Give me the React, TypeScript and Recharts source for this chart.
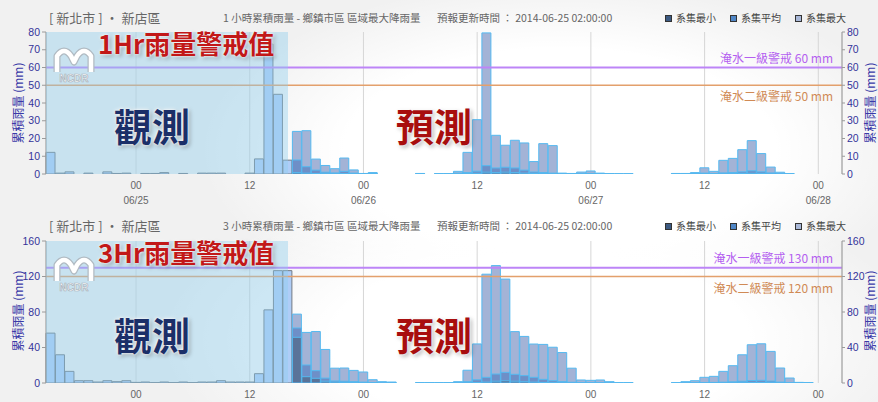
import React from 'react';
import { ComposedChart, Bar, XAxis, YAxis, CartesianGrid, ReferenceLine } from 'recharts';

// ---------- categories (hourly, 06/24 15:00 .. 06/28 02:00) ----------
const days = ['06/24', '06/25', '06/26', '06/27', '06/28'];
const categories: string[] = [];
days.forEach((d, di) => {
  for (let h = 0; h < 24; h++) {
    if (di === 0 && h < 15) continue;
    if (di === days.length - 1 && h > 2) continue;
    categories.push(`${d} ${String(h).padStart(2, '0')}`);
  }
});
const tickCategories = ['06/25 00', '06/25 12', '06/26 00', '06/26 12', '06/27 00', '06/27 12', '06/28 00'];

// ---------- 1 hr chart ----------
const obs1h = [12.2, 0.5, 1.2, 0, 0.5, 0, 1.2, 0.3, 0.5, 0, 0.3, 0.3, 0.8, 0, 0.3, 0, 0.5, 0.5, 0.5, 0, 0, 0.5, 8.5, 73.2, 44.9, 7.8];
const fc1hMax = [
  24, 24.4, 8.4, 4.8, 3, 9, 2.3, 0.3, 0.8, null,
  null, null, null, 0.3, null, 0.2, 0.2, 1.5, 12.2, 30.6,
  79.5, 21.8, 16.2, 19, 17.5, 7, 17.1, 16, 0.5, 0.3,
  1.1, 1.7, 0.5, 0.2, 0.1, 0.1, null, null, null, null,
  0.3, 0.3, 0.8, 3.5, 1.5, 7.7, 8.8, 13.7, 18.8, 11.5,
  3.9, 1, 0.2, null, null, null, null, null,
];
const fc1hMean = [
  7.9, 4.1, 2.2, 1, 0.6, 1.5, 0.5, 0.1, 0.3, null,
  null, null, null, 0.1, null, 0.1, 0.1, 0.5, 0.8, 1.6,
  4.7, 3.4, 3.8, 3.4, 2.2, 1.1, 0.8, 0.5, 0.1, 0.1,
  0.2, 0.3, 0.1, 0.1, 0.05, 0.05, null, null, null, null,
  0.1, 0.1, 0.2, 0.5, 0.3, 0.6, 0.8, 1.2, 1.8, 1.2,
  0.6, 0.2, 0.1, null, null, null, null, null,
];
const fc1hMin = [
  0.8, 0.5, 0.3, 0.1, 0.1, 0.2, 0.1, 0, 0, null,
  null, null, null, 0, null, 0, 0, 0.1, 0.2, 0.4,
  1, 0.8, 1, 0.8, 0.5, 0.2, 0.2, 0.1, 0, 0,
  0, 0.1, 0, 0, 0, 0, null, null, null, null,
  0, 0, 0, 0.1, 0, 0.1, 0.2, 0.3, 0.4, 0.3,
  0.1, 0, 0, null, null, null, null, null,
];
const yTicks1h = [0, 10, 20, 30, 40, 50, 60, 70, 80];

// ---------- 3 hr chart ----------
const obs3h = [56.2, 31.8, 13.1, 2.6, 2.6, 1.1, 2.6, 1.5, 2.6, 0.7, 1.1, 0.4, 1.1, 0.4, 1.1, 0.4, 1.1, 1.1, 2.6, 1.1, 1.1, 1.1, 10.5, 82.4, 126.6, 126.6];
const fc3hMax = [
  77.6, 57, 58, 37.8, 16.7, 16.9, 14.2, 12.4, 3.7, 1.5,
  1.1, null, null, 0.4, 0.4, 0.4, 0.4, 1.5, 14.4, 44,
  122.6, 132.3, 117.1, 57.9, 52.5, 43.9, 43.5, 40.3, 34.3, 16.7,
  3.4, 3, 3.4, 1.5, 0.4, 0.4, null, null, null, null,
  0.4, 1.5, 2.6, 6.4, 7.5, 13.1, 19.5, 31.8, 43.1, 44.2,
  35.6, 16.9, 5.6, 0.7, 0.4, null, null, null,
];
const fc3hMean = [
  62, 20.3, 13.9, 5.5, 2.3, 2, 1.5, 1, 0.4, 0.2,
  0.1, null, null, 0.1, 0.1, 0.1, 0.1, 0.3, 1.5, 3.6,
  6.4, 10.1, 12, 9.8, 8.3, 6.4, 4.1, 2.6, 1.5, 0.8,
  0.3, 0.3, 0.3, 0.1, 0.05, 0.05, null, null, null, null,
  0.05, 0.1, 0.2, 0.4, 0.6, 0.9, 1.3, 2, 2.8, 3,
  2.2, 1, 0.3, 0.1, 0.05, null, null, null,
];
const fc3hMin = [
  51.5, 7.1, 5.3, 2, 1, 0.7, 0.4, 0.2, 0.1, 0,
  0, null, null, 0, 0, 0, 0, 0, 0.2, 0.5,
  1, 2, 2.5, 2, 1.5, 1, 0.6, 0.3, 0.1, 0,
  0, 0, 0, 0, 0, 0, null, null, null, null,
  0, 0, 0, 0, 0.1, 0.1, 0.2, 0.3, 0.5, 0.5,
  0.3, 0.1, 0, 0, 0, null, null, null,
];
const yTicks3h = [0, 40, 80, 120, 160];

const FC_START = obs1h.length;

function buildData(obs: number[], mx: (number | null)[], mean: (number | null)[], mn: (number | null)[]) {
  return categories.map((cat, i) => ({
    cat,
    obs: i < obs.length ? obs[i] : null,
    max: i >= FC_START ? mx[i - FC_START] : null,
    mean: i >= FC_START ? mean[i - FC_START] : null,
    min: i >= FC_START ? mn[i - FC_START] : null,
  }));
}

const data1h = buildData(obs1h, fc1hMax, fc1hMean, fc1hMin);
const data3h = buildData(obs3h, fc3hMax, fc3hMean, fc3hMin);

const NUM_FONT = "'Liberation Sans', Arial, sans-serif";
const CJK_FONT = "'Noto Sans CJK TC', 'Noto Sans', sans-serif";

const XTick = (props: any) => {
  const { x, y, payload, showDates } = props;
  const [date, hour] = String(payload.value).split(' ');
  return (
    <g>
      <text x={x} y={y + 7} textAnchor="middle" fill="#666" fontSize={10} fontFamily={NUM_FONT}>{hour}</text>
      {showDates && hour === '00' && (
        <text x={x} y={y + 22} textAnchor="middle" fill="#666" fontSize={10} fontFamily={NUM_FONT}>{date}</text>
      )}
    </g>
  );
};

const LineLabel = (props: any) => {
  const { viewBox, text, color, above } = props;
  if (!viewBox) return null;
  const { x, y, width } = viewBox;
  return (
    <text x={x + width - 9} y={above ? y - 4.5 : y + 16} textAnchor="end" fill={color} fontSize={12} fontFamily={CJK_FONT}>
      {text}
    </text>
  );
};

function RainChart({ data, yMax, yTicks, lvl1, lvl2, showDates }: any) {
  const yTickStyle = { fill: '#33339a', fontSize: 10.5, fontFamily: NUM_FONT };
  return (
    <ComposedChart width={878} height={212} data={data} margin={{ top: 32, right: 0, bottom: 0, left: 0 }} barCategoryGap={0} barGap={0} style={{ overflow: 'visible' }}>
      <CartesianGrid xAxisId="main" yAxisId="left" horizontal={false} vertical stroke="#d6d6d6" />
      <XAxis xAxisId="main" dataKey="cat" ticks={tickCategories} interval={0} tick={<XTick showDates={showDates} />} tickLine={false} axisLine={false} height={38} tickSize={6} tickMargin={2} />
      <XAxis xAxisId="a1" dataKey="cat" hide height={0} />
      <XAxis xAxisId="a2" dataKey="cat" hide height={0} />
      <XAxis xAxisId="a3" dataKey="cat" hide height={0} />
      <YAxis yAxisId="left" domain={[0, yMax]} ticks={yTicks} width={46} tick={yTickStyle} tickSize={4} tickMargin={2} axisLine={{ stroke: '#9a9a9a' }} tickLine={{ stroke: '#9a9a9a' }} allowDataOverflow />
      <YAxis yAxisId="right" orientation="right" domain={[0, yMax]} ticks={yTicks} width={36} tick={yTickStyle} tickSize={3} tickMargin={2} axisLine={{ stroke: '#9a9a9a' }} tickLine={{ stroke: '#9a9a9a' }} allowDataOverflow />
      <ReferenceLine xAxisId="main" yAxisId="left" y={lvl1.value} stroke="#bd85f7" strokeWidth={2} label={<LineLabel text={lvl1.text} color="#b45ff0" above />} />
      <ReferenceLine xAxisId="main" yAxisId="left" y={lvl2.value} stroke="#e3a06c" strokeWidth={1.5} label={<LineLabel text={lvl2.text} color="#d08a55" />} />
      <Bar xAxisId="main" yAxisId="left" dataKey="obs" fill="#afcdf7" stroke="#737b84" strokeWidth={1} isAnimationActive={false} />
      <Bar xAxisId="a1" yAxisId="left" dataKey="max" fill="#a3b3d6" stroke="#55b9f0" strokeWidth={1} isAnimationActive={false} />
      <Bar xAxisId="a2" yAxisId="left" dataKey="mean" fill="#6e8fc7" stroke="#55b9f0" strokeWidth={1} isAnimationActive={false} />
      <Bar xAxisId="a3" yAxisId="left" dataKey="min" fill="#5a7399" stroke="#55b9f0" strokeWidth={1} isAnimationActive={false} />
    </ComposedChart>
  );
}

const legendItems = [
  { name: '系集最小', color: '#3c5a82' },
  { name: '系集平均', color: '#4f86c6' },
  { name: '系集最大', color: '#a9b8d8' },
];

function Header({ top, title }: { top: number; title: string }) {
  const common: React.CSSProperties = { position: 'absolute', whiteSpace: 'nowrap', color: '#666', lineHeight: 1, fontFamily: CJK_FONT };
  return (
    <>
      <div style={{ ...common, left: 49, top: top + 11, fontSize: 13 }}>[ 新北市 ] · 新店區</div>
      <div style={{ ...common, left: 223, top: top + 13, fontSize: 10.5 }}>{title}</div>
      <div style={{ ...common, left: 437, top: top + 13, fontSize: 10.5 }}>預報更新時間 ： 2014-06-25 02:00:00</div>
      {legendItems.map((it, i) => (
        <div key={it.name} style={{ ...common, left: 665 + i * 65, top: top + 13, fontSize: 10, color: '#444', display: 'flex', alignItems: 'center' }}>
          <span style={{ display: 'inline-block', width: 5, height: 5, background: it.color, border: '1px solid #333', marginRight: 4 }} />
          {it.name}
        </div>
      ))}
      <div style={{ ...common, left: 12, top: top + 103, fontSize: 12, color: '#3a3aa8', transform: 'translate(-50%, -50%) rotate(-90deg)', transformOrigin: 'center', marginLeft: 6 }}>累積雨量 (mm)</div>
      <div style={{ ...common, left: 864, top: top + 103, fontSize: 12, color: '#3a3aa8', transform: 'translate(-50%, -50%) rotate(-90deg)', transformOrigin: 'center', marginLeft: 6 }}>累積雨量 (mm)</div>
    </>
  );
}

function Overlay({ top, label }: { top: number; label: string }) {
  const glow = '0 0 2px #fff, 0 0 4px #fff, 2px 2px 4px rgba(0,0,0,0.35)';
  const mPath = 'M4 27 L4 11 Q11 1 18 11 L21 17 L24 11 Q31 1 38 11 L38 27';
  return (
    <>
      <div style={{ position: 'absolute', left: 46, top: top + 32, width: 242, height: 142, background: 'rgba(140, 205, 238, 0.4)' }} />
      <svg style={{ position: 'absolute', left: 53, top: top + 45 }} width={44} height={40}>
        <path d={mPath} fill="none" stroke="#b0bac2" strokeWidth={7} strokeLinejoin="round" />
        <path d={mPath} fill="none" stroke="#ffffff" strokeWidth={4.5} strokeLinejoin="round" />
        <text x={21} y={37} textAnchor="middle" fontSize={10} fontWeight={700} fill="#fff" stroke="#a8b2ba" strokeWidth={0.7} fontFamily={NUM_FONT}>NCDR</text>
      </svg>
      <div style={{ position: 'absolute', left: 98, top: top + 30, fontSize: 26, lineHeight: 1, fontWeight: 700, color: '#c21818', fontFamily: CJK_FONT, whiteSpace: 'nowrap', textShadow: glow }}>{label}</div>
      <div style={{ position: 'absolute', left: 114, top: top + 106, fontSize: 38, lineHeight: 1, fontWeight: 700, color: '#1b2f68', fontFamily: CJK_FONT, whiteSpace: 'nowrap', textShadow: glow }}>觀測</div>
      <div style={{ position: 'absolute', left: 396, top: top + 106, fontSize: 38, lineHeight: 1, fontWeight: 700, color: '#a80e0e', fontFamily: CJK_FONT, whiteSpace: 'nowrap', textShadow: glow }}>預測</div>
    </>
  );
}

export default function App() {
  return (
    <div
      style={{
        position: 'absolute', left: 0, top: 0, width: 878, height: 402, overflow: 'hidden',
        background: 'radial-gradient(ellipse 360px 170px at 560px 150px, #ffffff 60%, rgba(255,255,255,0) 100%), radial-gradient(ellipse 380px 160px at 540px 340px, #ffffff 55%, rgba(255,255,255,0) 100%), #f1f1f1',
      }}
    >
      <div style={{ position: 'absolute', left: 0, top: 0 }}>
        <RainChart data={data1h} yMax={80} yTicks={yTicks1h} showDates lvl1={{ value: 60, text: '淹水一級警戒 60 mm' }} lvl2={{ value: 50, text: '淹水二級警戒 50 mm' }} />
      </div>
      <div style={{ position: 'absolute', left: 0, top: 209 }}>
        <RainChart data={data3h} yMax={160} yTicks={yTicks3h} showDates={false} lvl1={{ value: 130, text: '淹水一級警戒 130 mm' }} lvl2={{ value: 120, text: '淹水二級警戒 120 mm' }} />
      </div>
      <Header top={0} title="1 小時累積雨量 - 鄉鎮市區 區域最大降雨量" />
      <Header top={208} title="3 小時累積雨量 - 鄉鎮市區 區域最大降雨量" />
      <Overlay top={0} label="1Hr雨量警戒值" />
      <Overlay top={209} label="3Hr雨量警戒值" />
    </div>
  );
}
